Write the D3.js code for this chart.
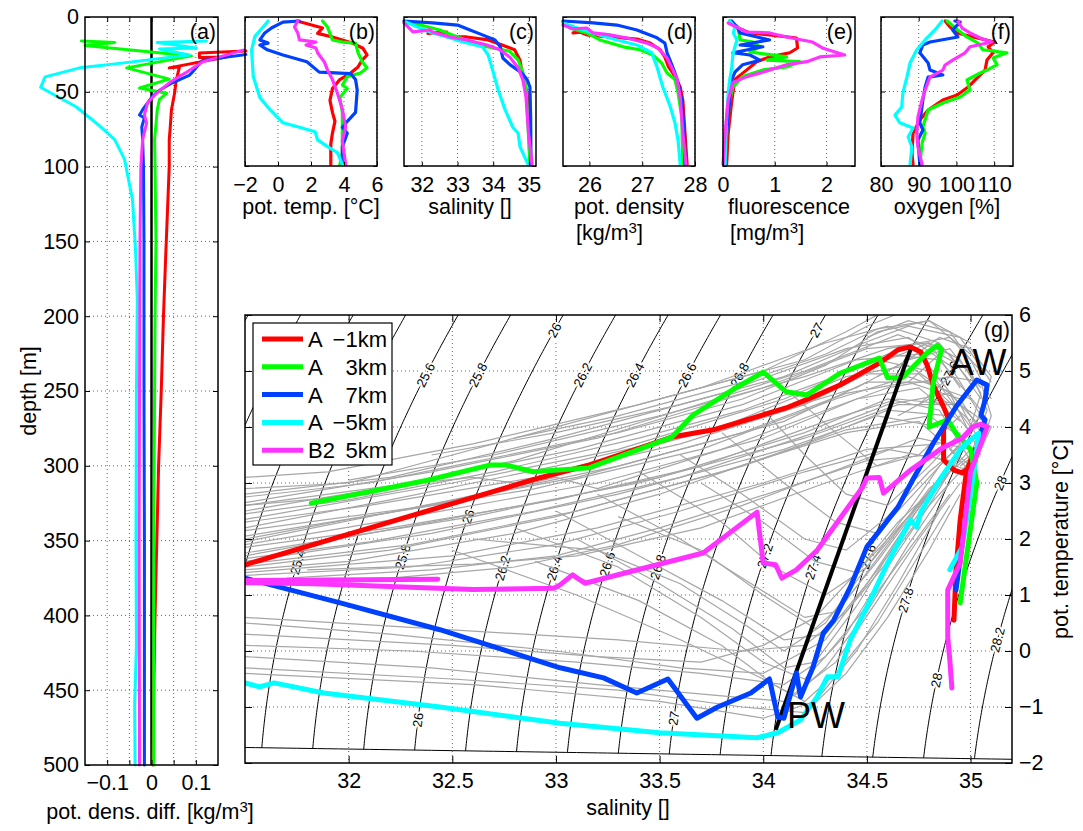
<!DOCTYPE html>
<html>
<head>
<meta charset="utf-8">
<script src="https://cdn.jsdelivr.net/npm/d3@7"></script>
<style>
body { margin: 0; background: #fff; }
text { font-family: "Liberation Sans", Arial, Helvetica, sans-serif; fill: #000; }
</style>
</head>
<body>
<svg id="fig" width="1083" height="831"></svg>
<script>
// series order: A -1km, A 3km, A 7km, A -5km, B2 5km
const legendLabels = [["A", "\u22121km"], ["A", "3km"], ["A", "7km"], ["A", "\u22125km"], ["B2", "5km"]];
const seriesColors = ["#ff0000", "#00ff00", "#0040ff", "#00ffff", "#ff33ff"];
const FS = 21.5;

// (a) potential density difference [kg/m3] vs depth [m]
const densDiffProfiles = [
  [[0.213,22.7],[0.108,24],[0.108,27],[0.168,26.7],[0.04,34],[0.063,33.5],[0.056,42],[0.052,51],[0.045,62],[0.042,75],[0.04,82],[0.04,100],[0.036,130],[0.032,160],[0.027,200],[0.022,250],[0.016,300],[0.012,350],[0.008,400],[0.005,450],[0.003,500]],
  [[-0.158,16],[-0.083,17],[-0.15,19],[0.09,26],[-0.056,34],[0.04,41.5],[-0.027,47.5],[0.034,51],[0.018,55],[0.013,62],[0.007,82],[0.008,100],[0.01,150],[0.008,200],[0.006,300],[0.005,400],[0.005,500]],
  [[0.213,25],[0.115,29],[0.092,37],[0.085,39],[0.047,44],[0.018,49],[0.002,53],[-0.02,62],[-0.027,65.5],[-0.016,67.5],[-0.022,73.5],[-0.02,82],[-0.018,100],[-0.017,150],[-0.017,250],[-0.016,350],[-0.016,500]],
  [[0.124,16],[0.013,17],[0.101,20.7],[0.018,21.4],[0.085,25.4],[-0.072,31],[-0.162,34],[-0.24,40],[-0.25,47],[-0.22,52],[-0.17,60],[-0.12,72],[-0.083,82],[-0.061,95],[-0.043,122],[-0.036,156],[-0.032,189],[-0.034,250],[-0.035,350],[-0.034,420],[-0.038,460],[-0.037,500]],
  [[0.209,22],[0.115,30],[0.079,37],[0.067,39],[0.04,44],[0.011,51],[-0.009,57.5],[-0.016,65.5],[-0.011,71],[-0.02,82],[-0.024,100],[-0.026,150],[-0.027,250],[-0.028,350],[-0.027,500]]
];

// (b) potential temperature [degC] vs depth
const tempProfiles = [
  [[1.15,2.7],[1.6,4],[2.7,7.4],[2.4,11],[3.3,13.4],[4.5,17.5],[5.15,21],[5.4,25.5],[5.1,29],[4.85,33.5],[4.4,37.6],[3.75,42],[3.3,48],[3.15,56],[3.3,64],[3.45,70],[3.3,78],[3.2,85],[3.2,99]],
  [[2.7,2.7],[3.0,6.7],[3.3,15.4],[3.9,16.8],[4.7,17.5],[4.85,24],[5.1,30],[5.4,34],[5.0,37.6],[4.2,40],[3.9,45.6],[4.2,48],[3.75,54],[3.9,64],[3.9,91],[3.75,99]],
  [[1.3,2.7],[0.3,3.4],[-0.4,7.4],[-0.8,10.7],[-1.1,15.4],[-0.6,17.5],[-1.1,18.8],[-0.65,22],[0.3,25.5],[1.75,30],[2.5,37],[4.4,38],[4.7,42],[4.8,49],[4.7,64],[4.2,70],[3.9,74],[4.2,78],[3.9,87],[3.9,99]],
  [[-0.6,2.7],[-0.9,6.7],[-1.4,13],[-1.6,22],[-1.5,40],[-1.1,54],[-0.5,62],[0.3,71],[1.3,74],[2.25,77],[2.4,82.5],[3.0,87],[3.6,91],[3.9,99]],
  [[1.2,2.7],[1.0,6.7],[1.2,10.7],[1.3,15.4],[2.3,16.8],[1.7,18.8],[2.3,20.8],[2.4,24],[2.8,30],[3.0,35.5],[3.3,42],[3.6,51],[3.9,62],[4.1,74],[3.9,83],[4.1,99]]
];

// (c) salinity vs depth
const salinityProfiles = [
  [[32.17,11],[32.7,10.1],[32.73,13.4],[33.26,13.4],[33.86,15.4],[34.27,19],[34.6,22],[34.75,29],[34.83,40],[34.95,51],[34.99,67],[35.03,99]],
  [[31.5,3.4],[31.86,4.7],[32.5,8.7],[33.0,13.4],[33.63,19],[34.05,21],[34.46,23],[34.7,29],[34.83,37],[34.92,47],[34.98,74],[35.03,99]],
  [[31.5,2.7],[32.3,4],[33.0,5.4],[33.35,8.7],[33.7,12],[34.05,15.4],[34.2,20],[34.27,27.5],[34.47,32],[34.8,37.6],[34.95,42],[35.03,47],[35.05,67],[35.06,99]],
  [[31.55,3.4],[31.95,7.4],[32.3,10.7],[32.8,14.1],[33.15,16.8],[33.7,20],[33.86,25.5],[34.0,37],[34.14,49],[34.33,62],[34.55,74],[34.7,78],[34.75,87],[34.98,99]],
  [[31.5,4],[31.75,10],[32.23,8.7],[32.3,10.1],[32.79,13.4],[33.26,15.4],[33.82,18.8],[34.19,22],[34.47,27],[34.7,34],[34.83,42],[34.92,53.7],[34.99,78],[35.09,99]]
];

// (d) potential density vs depth
const densityProfiles = [
  [[25.69,10.7],[25.82,10.1],[25.95,12],[26.39,13.4],[26.9,14.8],[27.15,17.5],[27.34,22],[27.43,27],[27.5,33.5],[27.58,37.6],[27.72,47],[27.77,56],[27.81,78],[27.85,99]],
  [[25.5,3.4],[25.63,7.4],[25.95,10.7],[26.2,15.4],[26.64,20],[26.96,22],[27.2,25.5],[27.37,31],[27.47,37.6],[27.62,42],[27.68,51],[27.75,67],[27.77,99]],
  [[25.5,2.7],[26.07,4],[26.52,5.4],[26.9,8.7],[27.28,14],[27.43,17.5],[27.47,24],[27.56,32],[27.62,37.6],[27.68,44],[27.75,56],[27.8,78],[27.81,99]],
  [[25.5,4],[25.77,7.4],[26.07,10.7],[26.45,14.8],[26.9,18.8],[27.18,24],[27.28,33.5],[27.39,47],[27.53,60],[27.62,71],[27.68,83],[27.72,99]],
  [[25.5,5.4],[25.7,8],[25.95,7.4],[26.07,10.7],[26.39,12],[26.71,14.1],[27.09,17.5],[27.3,20.8],[27.47,27.5],[27.58,35.5],[27.66,42],[27.72,53.7],[27.77,78],[27.83,99]]
];

// (e) fluorescence vs depth
const fluorProfiles = [
  [[0.13,2.7],[0.29,7.4],[0.52,10.7],[0.9,12],[1.42,14.1],[1.44,20.8],[1.29,24],[0.9,26.8],[0.65,30],[0.46,35.5],[0.23,42],[0.17,56],[0.1,78],[0.07,99]],
  [[0.13,2.7],[0.29,6.7],[0.33,15.4],[0.58,16.8],[0.71,20],[0.52,23.5],[1.23,26.8],[0.85,29],[1.48,30],[1.23,33.5],[0.77,35.5],[0.38,40],[0.19,47],[0.13,56],[0.07,78],[0.04,99]],
  [[0.17,2.7],[0.27,6.7],[0.33,10.7],[0.9,15.4],[0.33,18.8],[0.77,20],[0.19,24],[0.52,25.5],[0.71,29],[0.38,32],[0.23,37],[0.17,42],[0.13,56],[0.07,78],[0.04,99]],
  [[0.13,2.7],[0.23,6.7],[0.2,10.7],[0.27,15.4],[0.23,20],[0.19,25.5],[0.17,33.5],[0.13,42],[0.1,51],[0.07,67],[0.04,99]],
  [[0.1,4],[0.46,10.1],[0.9,10.7],[1.23,13.4],[1.73,16.8],[1.92,20.8],[2.35,25.5],[1.87,26.8],[1.62,30],[1.23,32],[0.77,37],[0.46,40],[0.19,44],[0.1,56],[0.04,78],[0.0,99]]
];

// (f) oxygen saturation vs depth
const oxygenProfiles = [
  [[97,2.7],[98.3,6.7],[100.2,10.7],[105.5,14.1],[110.2,16.8],[108.4,20],[109.7,24],[108.1,28.9],[107.6,35.6],[105.5,40.9],[103.1,47],[100.2,52.3],[96.4,55.7],[92.5,62.4],[90.3,69.1],[88.5,77.9],[88.2,91.3],[88.5,99]],
  [[97.5,2.7],[100.4,8.7],[102.8,13.4],[105.7,17.5],[107,22],[113.4,24],[109.7,27.5],[110.8,32],[108.1,35.6],[106.3,37.6],[102.8,42.3],[103.6,49],[101,53.7],[96.4,57.7],[92.5,62.4],[91.1,73.8],[91.7,77.9],[90.9,84.6],[90.3,99]],
  [[99.6,2.7],[101,3.4],[99,8.7],[100.4,13.4],[93,16.8],[91.1,18.8],[90.3,24],[92.5,30.9],[93,35.6],[96.4,38.9],[92.5,40.3],[91.7,47],[91.1,55.7],[90.3,71],[91.1,75.8],[89.8,82.6],[90.3,99]],
  [[96.2,2.7],[94.3,8.7],[91.7,15.4],[89.5,22],[87.7,30.9],[86.9,40],[85.8,51],[85.5,60.4],[83.7,65.8],[85,71],[88.5,74.5],[87.2,80.5],[88.2,87.2],[87.7,99]],
  [[100.4,2.7],[101.5,7.4],[103.6,10.7],[106.3,14.1],[109.4,16.8],[103.6,20],[102.3,24],[99,28.9],[97,32.2],[96.4,35.6],[93,40.3],[91.7,49],[90.9,55.7],[89.8,67],[89.5,77.9],[89.8,87.2],[90.9,99]]
];

// (g) T-S curves [salinity, pot. temperature]
const tsProfiles = [
  [[31.5,1.54],[32.92,3.09],[33.16,3.32],[33.56,3.82],[33.76,3.95],[34.11,4.34],[34.23,4.52],[34.37,4.75],[34.56,5.14],[34.65,5.38],[34.71,5.43],[34.76,5.34],[34.79,5.11],[34.82,4.75],[34.87,4.36],[34.89,4.18],[34.87,3.95],[34.87,3.41],[34.92,3.23],[34.96,3.18],[35.01,3.32],[35.02,3.6],[34.98,3.2],[34.95,2.34],[34.93,1.45],[34.92,0.55]],
  [[31.82,2.64],[32.38,3.05],[32.68,3.32],[32.76,3.32],[32.89,3.2],[33.16,3.27],[33.56,3.82],[33.66,4.21],[33.85,4.66],[34.0,4.98],[34.11,4.63],[34.21,4.57],[34.37,4.96],[34.56,5.23],[34.6,4.88],[34.67,4.88],[34.79,5.32],[34.84,5.46],[34.86,5.38],[34.82,4.79],[34.8,4.0],[34.89,4.13],[34.93,3.89],[35.0,3.6],[35.03,3.0],[35.0,2.2],[34.97,1.4],[34.95,0.86]],
  [[31.5,1.3],[31.96,0.86],[32.44,0.38],[33.02,-0.3],[33.23,-0.48],[33.39,-0.75],[33.54,-0.5],[33.68,-1.2],[33.78,-1.0],[33.94,-0.75],[34.03,-0.5],[34.07,-1.18],[34.1,-1.2],[34.16,-0.39],[34.18,-0.82],[34.24,-0.29],[34.29,0.32],[34.34,0.55],[34.42,1.14],[34.5,1.86],[34.65,2.57],[34.72,3.05],[34.82,3.71],[34.93,4.36],[35.03,4.84],[35.08,4.75],[35.07,4.48],[35.05,4.21],[35.07,4.13],[35.04,3.77],[35.02,3.36],[35.01,3.29],[34.97,2.2],[34.93,1.09]],
  [[31.5,-0.57],[31.57,-0.64],[31.64,-0.57],[31.88,-0.75],[32.44,-1.0],[33.02,-1.29],[33.5,-1.46],[33.97,-1.55],[34.07,-1.46],[34.18,-1.23],[34.26,-0.82],[34.31,-0.46],[34.36,-0.46],[34.42,0.2],[34.51,0.86],[34.6,1.57],[34.71,2.34],[34.74,2.21],[34.76,2.48],[34.85,3.05],[34.95,3.59],[34.98,3.71],[35.04,3.89],[35.02,3.3],[34.96,1.86],[34.9,1.45]],
  [[32.43,1.28],[31.5,1.26],[31.5,1.22],[31.83,1.2],[32.6,1.1],[32.99,1.12],[33.02,1.18],[33.08,1.36],[33.14,1.21],[33.71,1.75],[33.97,2.48],[34.0,1.57],[34.06,1.54],[34.09,1.3],[34.16,1.45],[34.26,1.8],[34.48,2.93],[34.5,3.09],[34.56,3.1],[34.58,2.82],[34.71,3.23],[34.87,3.64],[34.96,3.8],[35.01,4.0],[35.05,4.05],[35.08,4.0],[35.0,3.2],[34.95,1.57],[34.89,1.09],[34.89,0.25],[34.9,-0.16],[34.91,-0.66]]
];
const mixingLine = [[34.06,-1.41],[34.71,5.38]];

// background profiles (grey) [salinity, pot. temperature]
const grayProfiles = [
  [[31.5,2.9],[32.0,3.0],[32.9,3.9],[33.7,4.7],[34.3,5.5],[34.6,5.8],[34.85,5.5],[35.0,4.8]],
  [[31.5,2.8],[32.2,3.1],[33.0,3.8],[33.8,4.6],[34.4,5.4],[34.7,5.6],[34.9,5.1],[35.05,4.2]],
  [[31.5,2.65],[32.4,3.2],[33.2,3.8],[34.0,4.7],[34.5,5.4],[34.8,5.5],[34.95,4.7]],
  [[31.5,2.5],[32.3,3.0],[33.1,3.6],[33.9,4.4],[34.45,5.2],[34.75,5.3],[34.95,4.4],[35.05,3.7]],
  [[31.5,2.35],[32.5,3.0],[33.3,3.6],[34.1,4.5],[34.55,5.2],[34.8,5.0],[35.0,4.0]],
  [[31.5,2.2],[32.2,2.7],[33.0,3.3],[33.8,4.0],[34.4,4.9],[34.7,5.1],[34.9,4.6],[35.05,3.5]],
  [[31.5,2.05],[32.4,2.6],[33.3,3.3],[34.1,4.1],[34.5,4.8],[34.8,4.8],[35.0,3.9]],
  [[31.5,1.9],[32.3,2.4],[33.2,3.0],[34.0,3.8],[34.45,4.5],[34.75,4.7],[34.95,4.1]],
  [[31.5,1.75],[32.6,2.4],[33.5,3.1],[34.2,3.9],[34.6,4.5],[34.85,4.3],[35.0,3.4]],
  [[31.5,1.6],[32.4,2.1],[33.3,2.8],[34.1,3.6],[34.55,4.2],[34.85,4.0]],
  [[31.5,1.5],[32.2,1.8],[33.0,2.4],[33.8,3.2],[34.4,3.9],[34.75,4.1],[35.0,3.3]],
  [[31.5,1.4],[32.5,1.7],[33.2,2.2],[34.0,3.0],[34.5,3.6],[34.85,3.7]],
  [[31.5,1.35],[32.3,1.5],[33.0,1.9],[33.6,2.5],[34.2,3.2],[34.6,3.6],[34.9,3.4]],
  [[31.8,1.45],[32.6,1.55],[33.1,1.7],[33.7,2.2],[34.3,3.0],[34.7,3.5]],
  [[31.5,1.45],[32.0,1.6],[32.8,2.1],[33.5,2.8],[34.2,3.7],[34.6,4.3],[34.9,4.2]],
  [[31.5,2.6],[32.1,2.8],[32.8,3.4],[33.6,4.3],[34.2,5.0],[34.65,5.65],[34.9,5.3],[35.05,4.5]],
  [[32.0,3.05],[32.7,3.5],[33.5,4.2],[34.2,4.9],[34.6,5.4],[34.9,5.6],[35.05,5.0]],
  [[31.5,2.0],[32.0,2.35],[32.9,2.9],[33.7,3.6],[34.35,4.5],[34.7,4.9],[35.0,4.5]],
  [[31.5,1.7],[32.4,2.3],[33.4,3.0],[34.2,3.8],[34.65,4.4],[34.95,4.4]],
  [[31.5,3.1],[31.9,3.2],[32.6,3.7],[33.4,4.4],[34.0,5.0],[34.4,5.7],[34.6,6.1]],
  [[31.5,2.75],[32.1,3.0],[32.5,3.3],[33.3,3.9],[33.9,4.5],[34.3,5.1],[34.55,5.7],[34.8,5.9],[35.0,5.3]],
  [[31.5,2.45],[32.0,2.7],[32.7,3.2],[33.4,3.8],[33.9,4.3],[34.35,4.9],[34.6,5.3],[34.85,5.2],[35.05,4.3]],
  [[31.5,2.3],[32.1,2.6],[32.9,3.1],[33.6,3.7],[34.2,4.4],[34.5,4.95],[34.75,4.95],[35.0,4.1]],
  [[31.5,2.15],[32.3,2.55],[33.1,3.1],[33.9,3.9],[34.4,4.6],[34.7,4.8],[34.95,4.5],[35.05,3.9]],
  [[31.5,1.85],[32.2,2.2],[33.0,2.7],[33.7,3.3],[34.3,4.1],[34.65,4.5],[34.9,4.4]],
  [[31.5,1.65],[32.1,1.95],[32.9,2.5],[33.6,3.1],[34.25,3.9],[34.6,4.4],[34.9,4.6],[35.05,4.0]],
  [[31.5,1.55],[32.3,1.9],[33.1,2.5],[33.9,3.3],[34.4,3.95],[34.8,4.2],[35.0,3.7]],
  [[31.7,1.3],[32.4,1.45],[33.0,1.7],[33.5,2.2],[34.1,2.9],[34.5,3.4],[34.8,3.5],[35.0,3.2]],
  [[32.2,1.3],[32.8,1.5],[33.3,1.9],[33.9,2.6],[34.4,3.3],[34.75,3.8],[35.0,3.6]],
  [[32.4,3.5],[33.0,3.9],[33.6,4.4],[34.1,4.9],[34.45,5.45],[34.7,5.8],[34.95,5.6],[35.1,4.8]],
  [[32.8,3.8],[33.3,4.2],[33.9,4.8],[34.3,5.3],[34.55,5.75],[34.8,5.9],[35.0,5.5]],
  [[33.5,4.5],[33.9,4.9],[34.2,5.2],[34.5,5.8],[34.7,6.1]],
  [[31.5,1.95],[32.5,2.7],[33.0,3.1],[33.2,2.9],[33.8,3.6],[34.3,4.3],[34.6,4.7],[34.9,4.9]],
  [[31.5,2.6],[32.2,2.95],[32.6,3.1],[32.8,3.0],[33.5,3.7],[34.0,4.2],[34.45,4.7],[34.7,5.2],[34.9,5.4],[35.05,4.7]],
  [[31.5,0.5],[32.2,0.3],[33.0,0.0],[33.6,-0.3],[34.0,-0.4],[34.3,0.2],[34.5,1.2],[34.7,2.2],[34.9,3.2]],
  [[31.5,-0.1],[32.4,-0.3],[33.2,-0.6],[33.8,-0.8],[34.1,-0.9],[34.35,-0.2],[34.55,0.9],[34.75,2.0],[34.95,3.0]],
  [[31.5,-0.3],[32.5,-0.5],[33.3,-0.7],[33.9,-1.0],[34.2,-1.1],[34.4,-0.4],[34.6,0.6],[34.8,1.8],[34.95,2.8]],
  [[31.5,-0.4],[32.6,-0.6],[33.5,-0.9],[34.0,-1.2],[34.25,-0.9],[34.45,0.0],[34.65,1.2],[34.85,2.5]],
  [[31.5,0.1],[32.3,0.0],[33.1,-0.2],[33.7,-0.4],[34.1,-0.6],[34.3,-0.1],[34.5,0.8],[34.7,1.8],[34.9,2.8]],
  [[31.5,0.6],[32.4,0.4],[33.3,0.2],[33.9,0.0],[34.2,0.1],[34.4,0.7],[34.6,1.6],[34.8,2.6],[35.0,3.4]],
  [[31.5,0.3],[32.5,0.1],[33.2,-0.1],[33.7,-0.2],[34.0,0.1],[34.25,0.6],[34.45,1.4],[34.65,2.3],[34.85,3.0]],
  [[32.8,2.2],[33.3,1.5],[33.7,0.6],[34.0,-0.2],[34.2,-0.5],[34.4,0.3],[34.6,1.5],[34.8,2.6],[34.95,3.5]],
  [[33.0,2.5],[33.4,1.7],[33.8,0.9],[34.1,0.2],[34.3,0.3],[34.5,1.2],[34.7,2.3],[34.9,3.3]],
  [[33.2,2.8],[33.6,2.0],[33.9,1.3],[34.2,0.6],[34.35,0.7],[34.55,1.6],[34.75,2.6],[34.95,3.6]],
  [[32.5,1.8],[33.1,1.0],[33.6,0.2],[34.0,-0.5],[34.15,-0.8],[34.3,-0.3],[34.5,0.7],[34.7,1.9],[34.9,3.0]],
  [[33.4,3.2],[33.8,2.3],[34.05,1.5],[34.3,1.0],[34.5,1.5],[34.7,2.5],[34.85,3.3],[35.0,3.9]],
  [[33.6,3.5],[33.9,2.8],[34.2,2.0],[34.4,1.8],[34.6,2.4],[34.8,3.2],[35.0,3.8]],
  [[33.1,2.0],[33.5,1.2],[33.85,0.4],[34.1,-0.3],[34.25,-0.2],[34.45,0.8],[34.65,2.0],[34.85,3.1]],
  [[32.6,2.0],[33.2,1.8],[33.6,1.2],[33.9,0.5],[34.1,0.0],[34.3,0.5],[34.5,1.5],[34.7,2.4],[34.9,3.3]],
  [[33.3,2.4],[33.7,1.8],[34.0,1.0],[34.25,0.4],[34.4,0.9],[34.6,1.9],[34.8,2.9],[35.0,3.5]],
  [[33.7,3.0],[34.0,2.3],[34.25,1.6],[34.45,1.4],[34.65,2.2],[34.85,3.0],[35.0,3.6]],
  [[32.9,1.6],[33.4,0.9],[33.8,0.1],[34.05,-0.6],[34.2,-0.9],[34.35,-0.4],[34.55,0.5],[34.75,1.7],[34.9,2.6]],
  [[34.0,4.3],[34.2,3.5],[34.4,2.8],[34.6,2.6],[34.8,3.3],[34.95,3.9]],
  [[33.8,3.9],[34.1,3.0],[34.35,2.3],[34.55,2.1],[34.75,2.9],[34.95,3.7]],
  [[34.1,4.7],[34.35,3.9],[34.55,3.3],[34.75,3.5],[34.95,4.2]],
  [[34.6,5.2],[34.8,5.5],[34.95,5.2],[35.05,4.6],[35.0,4.0],[34.9,3.6],[35.0,3.2]],
  [[34.7,4.8],[34.85,5.3],[35.0,5.0],[35.08,4.3],[35.0,3.5]],
  [[34.75,4.4],[34.9,4.9],[35.05,4.8],[35.1,4.2],[35.02,3.3]],
  [[34.5,5.6],[34.7,5.9],[34.9,5.7],[35.0,5.2],[35.1,4.5]],
  [[34.55,4.9],[34.7,5.2],[34.85,5.6],[35.0,5.4],[35.1,4.9],[35.05,4.2],[34.95,3.8]],
  [[34.65,4.2],[34.8,4.5],[34.95,4.4],[35.1,4.0],[35.05,3.6],[34.95,3.3]]
];

// isopycnal levels (sigma-theta) and where their labels sit [level, temperature]
const contourLevels = [24.8, 25.0, 25.2, 25.4, 25.6, 25.8, 26.0, 26.2, 26.4, 26.6, 26.8, 27.0, 27.2, 27.4, 27.6, 27.8, 28.0, 28.2, 28.4];
const contourLabels = [[25.6,4.93],[25.8,4.93],[26.2,4.93],[26.4,4.93],[26.6,4.93],[26.8,4.93],[26.0,5.73],[27.0,5.73],
  [25.4,1.59],[25.8,1.68],[26.0,2.4],[26.2,1.48],[26.4,1.48],[26.6,1.55],[26.8,1.5],[27.2,1.7],[27.4,1.5],[27.6,1.68],
  [27.8,0.91],[28.0,-0.52],[28.2,0.2],[28.0,3.0],[27.6,4.96],[26.0,-1.23],[27.0,-1.2]];
const waterMassLabels = [["AW", 34.9, 4.93], ["PW", 34.115, -1.375]];

// axis ticks
const depthTicksA = d3.range(0, 501, 50);
const depthTicks = [0, 50, 100];
const densDiffTicks = [-0.1, -0.05, 0, 0.05, 0.1];
const tempTicks = [-2, 0, 2, 4, 6];
const salTicks = [32, 33, 34, 35];
const densTicks = [26, 27, 28];
const fluorTicks = [0, 1, 2];
const oxyTicks = [80, 90, 100, 110];
const tsSalTicks = [32, 32.5, 33, 33.5, 34, 34.5, 35];
const tsTempTicks = [-2, -1, 0, 1, 2, 3, 4, 5, 6];

const svg = d3.select("#fig");
const fmt = d3.format("~g");

function grid(x, y, gx, gy) {
  const g = svg.append("g").attr("stroke", "#666").attr("stroke-width", 1).attr("stroke-dasharray", "1,3");
  const [xa, xb] = x.range(), [ya, yb] = d3.extent(y.range());
  g.selectAll(null).data(gx).join("line")
    .attr("x1", d => x(d)).attr("x2", d => x(d)).attr("y1", ya).attr("y2", yb);
  g.selectAll(null).data(gy).join("line")
    .attr("x1", xa).attr("x2", xb).attr("y1", d => y(d)).attr("y2", d => y(d));
}

function axes(x, y, o) {
  const [xa, xb] = x.range(), [ya, yb] = d3.extent(y.range());
  const len = o.len || 4;
  const bottom = svg.append("g").attr("transform", `translate(0,${yb})`)
    .call(d3.axisBottom(x).tickValues(o.xTicks).tickSize(-len).tickPadding(o.xPad).tickFormat(o.xFmt || fmt));
  svg.append("g").attr("transform", `translate(0,${ya})`)
    .call(d3.axisTop(x).tickValues(o.xTicks).tickSize(-len).tickFormat(""));
  const left = svg.append("g").attr("transform", `translate(${xa},0)`)
    .call(d3.axisLeft(y).tickValues(o.yTicks).tickSize(-len).tickPadding(6).tickFormat(o.yLeftLabels ? fmt : ""));
  const right = svg.append("g").attr("transform", `translate(${xb},0)`)
    .call(d3.axisRight(y).tickValues(o.yTicks).tickSize(-len).tickPadding(7).tickFormat(o.yRightLabels ? fmt : ""));
  svg.selectAll(".domain").remove();
  [bottom, left, right].forEach(g => g.attr("font-size", FS));
  svg.append("rect").attr("x", xa).attr("y", ya).attr("width", xb - xa).attr("height", yb - ya)
    .attr("fill", "none").attr("stroke", "#000").attr("stroke-width", 1.5);
  svg.append("text").attr("x", xb - 2).attr("y", ya + 22).attr("text-anchor", "end")
    .attr("font-size", FS).text(o.tag);
}

function profiles(x, y, data, width) {
  const line = d3.line().x(d => x(d[0])).y(d => y(d[1]));
  svg.append("g").selectAll(null).data(data).join("path")
    .attr("d", line).attr("fill", "none")
    .attr("stroke", (d, i) => seriesColors[i]).attr("stroke-width", width)
    .attr("stroke-linejoin", "round").attr("stroke-linecap", "round");
}

function unitTitle(g, y, unit) {
  // "[xx/m" + superscript 3 + "]"
  const t = g.append("text").attr("y", y).attr("font-size", FS);
  t.append("tspan").text("[" + unit + "/m");
  t.append("tspan").attr("dy", -7).attr("font-size", 15).text("3");
  t.append("tspan").attr("dy", 7).text("]");
  return t;
}

// ---------- panel (a)
{
  const x = d3.scaleLinear().domain([-0.15, 0.15]).range([85, 218]);
  const y = d3.scaleLinear().domain([0, 500]).range([17, 765]);
  grid(x, y, densDiffTicks, depthTicksA.slice(1, -1));
  svg.append("line").attr("x1", x(0)).attr("x2", x(0)).attr("y1", y(0)).attr("y2", y(500))
    .attr("stroke", "#000").attr("stroke-width", 2.5);
  profiles(x, y, densDiffProfiles, 3);
  axes(x, y, {xTicks: densDiffTicks, xPad: 10, yTicks: depthTicksA, yLeftLabels: true, len: 5, tag: "(a)",
    xFmt: d => Math.abs(d * 10 - Math.round(d * 10)) < 1e-9 ? fmt(d) : ""});
  const t = unitTitle(svg.append("g"), 819, "kg");
  t.attr("x", 150).attr("text-anchor", "middle");
  t.insert("tspan", "tspan").text("pot. dens. diff. ");
  svg.append("text").attr("transform", "translate(36,391) rotate(-90)").attr("text-anchor", "middle")
    .attr("font-size", FS).text("depth [m]");
}

// ---------- panels (b)-(f)
const smallPanels = [
  {x0: 245, domain: [-2, 6], ticks: tempTicks, data: tempProfiles, tag: "(b)", title: "pot. temp. [\u00b0C]"},
  {x0: 404, domain: [31.5, 35.2], ticks: salTicks, data: salinityProfiles, tag: "(c)", title: "salinity []"},
  {x0: 563, domain: [25.5, 28], ticks: densTicks, data: densityProfiles, tag: "(d)", title: "pot. density", unit: "kg"},
  {x0: 723, domain: [0, 2.55], ticks: fluorTicks, data: fluorProfiles, tag: "(e)", title: "fluorescence", unit: "mg"},
  {x0: 881, domain: [80, 115], ticks: oxyTicks, data: oxygenProfiles, tag: "(f)", title: "oxygen [%]"}
];
smallPanels.forEach(p => {
  const x = d3.scaleLinear().domain(p.domain).range([p.x0, p.x0 + 132]);
  const y = d3.scaleLinear().domain([0, 100]).range([17, 166]);
  grid(x, y, p.ticks, [50]);
  profiles(x, y, p.data, 3.2);
  axes(x, y, {xTicks: p.ticks, xPad: 11, yTicks: depthTicks, len: 4, tag: p.tag});
  const cx = p.x0 + 66;
  const t1 = svg.append("text").attr("x", cx).attr("y", 214).attr("text-anchor", "middle")
    .attr("font-size", FS).text(p.title);
  if (p.unit) {
    const w = t1.node().getComputedTextLength();
    unitTitle(svg.append("g"), 240, p.unit).attr("x", cx - w / 2 + 2);
  }
});

// ---------- panel (g): T-S diagram
{
  const x = d3.scaleLinear().domain([31.5, 35.2]).range([245, 1012]);
  const y = d3.scaleLinear().domain([-2, 6]).range([763, 315]);
  svg.append("clipPath").attr("id", "clipg").append("rect")
    .attr("x", 245).attr("y", 315).attr("width", 767).attr("height", 448);

  grid(x, y, tsSalTicks, tsTempTicks.slice(1, -1));
  const plot = svg.append("g").attr("clip-path", "url(#clipg)");

  // UNESCO 1983 density at p = 0
  const sigmaTheta = (S, T) => {
    const rw = 999.842594 + 6.793952e-2 * T - 9.095290e-3 * T * T + 1.001685e-4 * T ** 3 - 1.120083e-6 * T ** 4 + 6.536332e-9 * T ** 5;
    const A = 8.24493e-1 - 4.0899e-3 * T + 7.6438e-5 * T * T - 8.2467e-7 * T ** 3 + 5.3875e-9 * T ** 4;
    const B = -5.72466e-3 + 1.0227e-4 * T - 1.6546e-6 * T * T;
    return rw + A * S + B * S ** 1.5 + 4.8314e-4 * S * S - 1000;
  };
  const freezeT = S => -0.0575 * S + 1.710523e-3 * S ** 1.5 - 2.154996e-4 * S * S;
  const salAt = (level, T) => {
    let lo = 20, hi = 40;
    for (let i = 0; i < 50; i++) {
      const m = (lo + hi) / 2;
      if (sigmaTheta(m, T) < level) lo = m; else hi = m;
    }
    return (lo + hi) / 2;
  };
  const tStart = level => {
    let lo = -3, hi = 1;
    for (let i = 0; i < 50; i++) {
      const m = (lo + hi) / 2;
      if (m - freezeT(salAt(level, m)) < 0) lo = m; else hi = m;
    }
    return (lo + hi) / 2;
  };
  const line = d3.line().x(d => x(d[0])).y(d => y(d[1]));
  const tGrid = d3.range(-2.5, 6.56, 0.05);
  const isopycnals = contourLevels.map(L => {
    const t0 = tStart(L);
    return [t0, ...tGrid.filter(t => t > t0)].map(t => [salAt(L, t), t]);
  });
  plot.append("g").selectAll(null).data(isopycnals).join("path")
    .attr("d", line).attr("fill", "none").attr("stroke", "#000").attr("stroke-width", 1);
  plot.append("path").datum(d3.range(31.3, 35.45, 0.05).map(s => [s, freezeT(s)]))
    .attr("d", line).attr("fill", "none").attr("stroke", "#000").attr("stroke-width", 1);

  plot.append("g").selectAll(null).data(contourLabels).join("text")
    .attr("transform", d => {
      const s = salAt(d[0], d[1]);
      const p1 = [x(salAt(d[0], d[1] - 0.15)), y(d[1] - 0.15)];
      const p2 = [x(salAt(d[0], d[1] + 0.15)), y(d[1] + 0.15)];
      const ang = Math.atan2(p2[1] - p1[1], p2[0] - p1[0]) * 180 / Math.PI;
      return `translate(${x(s)},${y(d[1])}) rotate(${ang})`;
    })
    .attr("text-anchor", "middle").attr("dy", "0.35em").attr("font-size", 13)
    .attr("stroke", "#fff").attr("stroke-width", 4).attr("paint-order", "stroke")
    .text(d => fmt(d[0]));

  plot.append("g").selectAll(null).data(grayProfiles).join("path")
    .attr("d", line).attr("fill", "none").attr("stroke", "#a6a6a6").attr("stroke-width", 1.2);

  const drawTS = i => plot.append("path").datum(tsProfiles[i]).attr("d", line).attr("fill", "none")
    .attr("stroke", seriesColors[i]).attr("stroke-width", 5)
    .attr("stroke-linejoin", "round").attr("stroke-linecap", "round");
  drawTS(0); drawTS(1);
  plot.append("path").datum(mixingLine).attr("d", line).attr("fill", "none")
    .attr("stroke", "#000").attr("stroke-width", 4);
  drawTS(2); drawTS(3); drawTS(4);

  svg.append("g").selectAll(null).data(waterMassLabels).join("text")
    .attr("x", d => x(d[1])).attr("y", d => y(d[2])).attr("font-size", 36).text(d => d[0]);

  axes(x, y, {xTicks: tsSalTicks, xPad: 10, yTicks: tsTempTicks, yRightLabels: true, len: 7, tag: "(g)"});
  svg.append("text").attr("x", 628).attr("y", 815).attr("text-anchor", "middle")
    .attr("font-size", FS).text("salinity []");
  svg.append("text").attr("transform", "translate(1068,539) rotate(-90)").attr("text-anchor", "middle")
    .attr("font-size", FS).text("pot. temperature [\u00b0C]");

  // legend
  const lg = svg.append("g");
  lg.append("rect").attr("x", 253).attr("y", 323).attr("width", 139).attr("height", 142)
    .attr("fill", "#fff").attr("stroke", "#000").attr("stroke-width", 1.2);
  const rows = lg.selectAll(null).data(legendLabels).join("g")
    .attr("transform", (d, i) => `translate(0,${339 + i * 27.8})`);
  rows.append("line").attr("x1", 262).attr("x2", 303)
    .attr("stroke", (d, i) => seriesColors[i]).attr("stroke-width", 5);
  rows.append("text").attr("x", 308).attr("y", 8).attr("font-size", 22).text(d => d[0]);
  rows.append("text").attr("x", 387).attr("y", 8).attr("text-anchor", "end").attr("font-size", 22).text(d => d[1]);
}
</script>
</body>
</html>
